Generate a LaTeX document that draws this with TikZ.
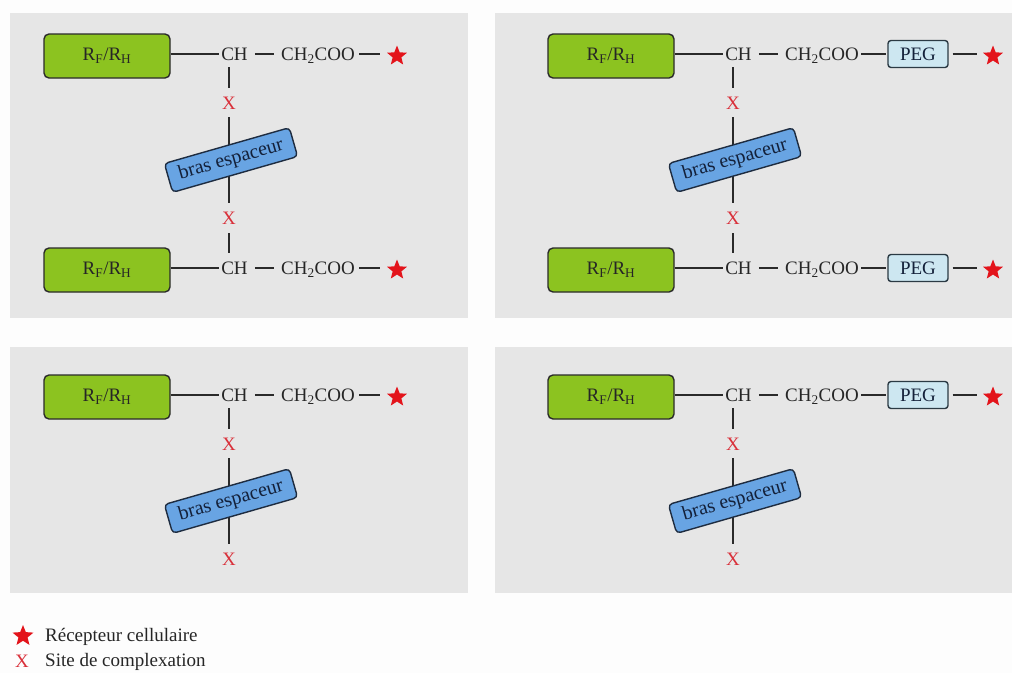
\documentclass[tikz,border=0pt]{standalone}
\usepackage{fontspec}
\setmainfont{Liberation Serif}
\usetikzlibrary{shapes.geometric}
\definecolor{panelgray}{HTML}{E6E6E6}
\definecolor{bgwhite}{HTML}{FDFDFD}
\definecolor{rfgreen}{HTML}{8CC320}
\definecolor{linecol}{HTML}{2A2A2A}
\definecolor{spacerblue}{HTML}{68A4E3}
\definecolor{spacerline}{HTML}{1E2C40}
\definecolor{spacertext}{HTML}{14213A}
\definecolor{pegblue}{HTML}{CDE7F1}
\definecolor{pegline}{HTML}{2B3A44}
\definecolor{starred}{HTML}{E3141B}
\definecolor{xred}{HTML}{D9303A}
\tikzset{
  panel/.style={fill=panelgray, draw=none},
  greenbox/.style={draw=linecol, line width=1.4pt, fill=rfgreen, rounded corners=5pt,
    minimum width=126pt, minimum height=44pt, inner sep=0pt,
    font=\fontsize{19}{22}\selectfont, text=black!85},
  chem/.style={inner sep=0pt, text height=12.6pt, text depth=0pt,
    font=\fontsize{19}{22}\selectfont, text=black!85},
  bond/.style={draw=linecol, line width=1.3pt},
  xsite/.style={inner sep=0pt, text height=12.6pt, text depth=0pt,
    font=\fontsize{19}{22}\selectfont, text=xred},
  spacer/.style={draw=spacerline, fill=spacerblue, line width=1.4pt, rounded corners=4pt,
    rotate=16, minimum width=130pt, minimum height=30pt, inner sep=0pt,
    font=\fontsize{20}{22}\selectfont, text=spacertext},
  pegbox/.style={draw=pegline, fill=pegblue, line width=1.4pt, rounded corners=3pt,
    minimum width=60pt, minimum height=27pt, inner sep=0pt,
    font=\fontsize{19}{22}\selectfont, text=spacertext},
  receptor/.style={star, star points=5, star point ratio=2.3, fill=starred, draw=none,
    inner sep=0pt, minimum size=21pt},
  legendtext/.style={chem, anchor=west},
}
% #1 prefix, #2 x offset, #3 row y, #4 PEG flag
\newcommand\molrow[4]{%
  \node[greenbox] (#1g) at (#2+107,#3+2) {R\textsubscript{F}/R\textsubscript{H}};
  \node[chem] (#1ch) at (#2+234.5,#3) {CH};
  \node[chem] (#1coo) at (#2+318,#3) {CH\textsubscript{2}COO};
  \draw[bond, shorten >=2pt] (#1g.east |- #1ch.center) -- (#1ch.west);
  \draw[bond, shorten <=7pt, shorten >=7pt] (#1ch.east) -- (#1coo.west);
  \ifnum#4=1
    \node[pegbox] (#1peg) at (#2+414,#3) {PEG};
    \node[receptor] (#1st) at (#2+489,#3+2) {};
    \draw[bond, shorten <=2pt, shorten >=1pt] (#1coo.east) -- (#1peg.west);
    \draw[bond, shorten <=4pt, shorten >=16pt] (#1peg.east) -- (#1peg.east -| #1st.center);
  \else
    \node[receptor] (#1st) at (#2+397,#3+2) {};
    \draw[bond, shorten <=4pt, shorten >=17pt] (#1coo.east) -- (#1coo.east -| #1st.center);
  \fi
}
% #1 prefix, #2 CH node, #3 x offset, #4 row y
\newcommand\spacerarm[4]{%
  \coordinate (#1bc) at (#3+231,#4+106);
  \node[xsite] (#1x1) at (#3+229,#4+49) {X};
  \node[xsite] (#1x2) at (#3+229,#4+164) {X};
  \draw[bond, shorten <=13pt, shorten >=15pt] (#1x1.center |- #2.center) -- (#1x1.center);
  \draw[bond, shorten <=14pt] (#1x1.center) -- (#1x1.center |- #1bc);
  \draw[bond, shorten >=15pt] (#1x2.center |- #1bc) -- (#1x2.center);
  \node[spacer] (#1box) at (#1bc) {bras espaceur};
}
\begin{document}
\begin{tikzpicture}[x=1pt, y=-1pt]
  \useasboundingbox[fill=bgwhite] (0,0) rectangle (1012,673);
  % panels
  \path[panel] (10,13) rectangle (468,318);
  \path[panel] (495,13) rectangle (1012,318);
  \path[panel] (10,347) rectangle (468,593);
  \path[panel] (495,347) rectangle (1012,593);
  % top left
  \molrow{a}{0}{54}{0}
  \molrow{b}{0}{268}{0}
  \spacerarm{s1}{ach}{0}{54}
  \draw[bond, shorten <=15pt, shorten >=15pt] (s1x2.center) -- (s1x2.center |- bch.center);
  % top right
  \molrow{c}{504}{54}{1}
  \molrow{d}{504}{268}{1}
  \spacerarm{s2}{cch}{504}{54}
  \draw[bond, shorten <=15pt, shorten >=15pt] (s2x2.center) -- (s2x2.center |- dch.center);
  % bottom left
  \molrow{e}{0}{395}{0}
  \spacerarm{s3}{ech}{0}{395}
  % bottom right
  \molrow{f}{504}{395}{1}
  \spacerarm{s4}{fch}{504}{395}
  % legend
  \node[receptor, minimum size=22pt] (lstar) at (23,636) {};
  \node[xsite] (lx) at (22,661) {X};
  \node[legendtext] (ltxt1) at (45,635) {Récepteur cellulaire};
  \node[legendtext] (ltxt2) at (45,660) {Site de complexation};
\end{tikzpicture}
\end{document}
